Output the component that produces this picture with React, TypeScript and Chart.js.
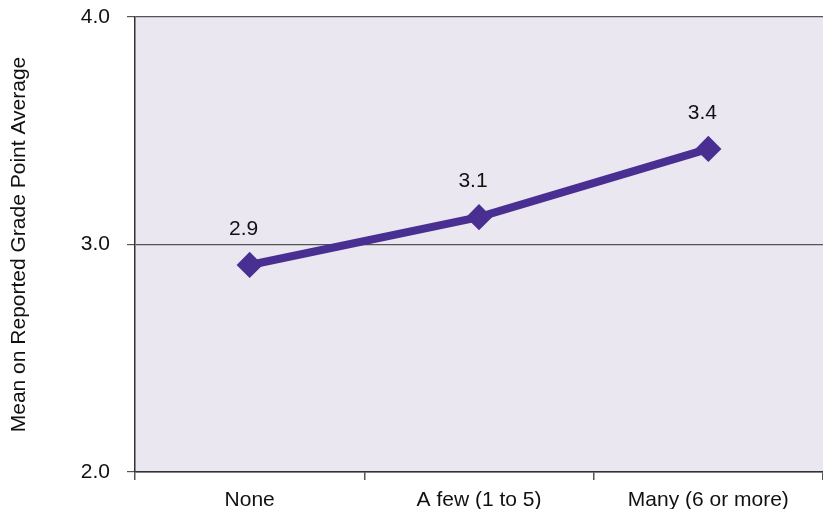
import React, { useEffect, useRef } from "react";
import { Chart, registerables } from "chart.js";

Chart.register(...registerables);

const categories = ["None", "A few (1 to 5)", "Many (6 or more)"];
const gpaMeans = [2.91, 3.12, 3.42];
const valueLabels = ["2.9", "3.1", "3.4"];
const yTicks = [2, 3, 4];

const FONT = "'Liberation Sans', Arial, Helvetica, sans-serif";

const plotBg = {
  id: "plotBg",
  beforeDraw(chart: any) {
    const { ctx, chartArea } = chart;
    ctx.save();
    ctx.fillStyle = "#EAE7F1";
    ctx.fillRect(chartArea.left, chartArea.top, chartArea.right - chartArea.left, chartArea.bottom - chartArea.top);
    ctx.restore();
  },
};

const valueLabelPlugin = {
  id: "valueLabels",
  afterDatasetsDraw(chart: any) {
    const { ctx } = chart;
    const meta = chart.getDatasetMeta(0);
    ctx.save();
    ctx.font = `21px ${FONT}`;
    ctx.fillStyle = "#111";
    ctx.textAlign = "center";
    ctx.textBaseline = "middle";
    meta.data.forEach((pt: any, i: number) => {
      ctx.fillText(valueLabels[i], pt.x - 6, pt.y - 36);
    });
    ctx.restore();
  },
};

export default function App() {
  const ref = useRef<HTMLCanvasElement | null>(null);
  useEffect(() => {
    if (!ref.current) return;
    const chart = new Chart(ref.current, {
      type: "line",
      data: {
        labels: categories,
        datasets: [
          {
            data: gpaMeans,
            borderColor: "#4A2F92",
            backgroundColor: "#4A2F92",
            borderWidth: 8,
            pointStyle: "rectRot",
            pointRadius: 11,
            pointBorderWidth: 3,
            pointBackgroundColor: "#4A2F92",
            pointBorderColor: "#4A2F92",
            tension: 0,
          },
        ],
      },
      options: {
        responsive: false,
        animation: false,
        layout: { autoPadding: false, padding: { top: 17, right: 0, left: 0, bottom: 0 } },
        plugins: {
          legend: { display: false },
          tooltip: { enabled: false },
        },
        scales: {
          x: {
            offset: true,
            grid: {
              offset: true,
              drawOnChartArea: false,
              drawTicks: true,
              tickLength: 8,
              color: "#555",
              lineWidth: 1.5,
            },
            border: { display: true, color: "#333", width: 1.5 },
            ticks: {
              color: "#111",
              font: { family: FONT, size: 21 },
              padding: 8,
              maxRotation: 0,
            },
            afterFit(scale: any) {
              scale.height = 37;
              scale.paddingLeft = 0;
              scale.paddingRight = 0;
            },
          },
          y: {
            min: 2,
            max: 4,
            afterBuildTicks(scale: any) {
              scale.ticks = yTicks.map((v) => ({ value: v }));
            },
            grid: {
              color: "#555",
              lineWidth: 1.2,
              tickLength: 8,
            },
            border: { display: true, color: "#333", width: 1.5 },
            ticks: {
              color: "#111",
              font: { family: FONT, size: 21 },
              padding: 17,
              callback: (v: any) => Number(v).toFixed(1),
            },
            title: {
              display: true,
              text: "Mean on Reported Grade Point Average",
              color: "#111",
              font: { family: FONT, size: 21 },
              padding: { top: 7, bottom: 0 },
            },
            afterFit(scale: any) {
              scale.width = 135;
              scale.paddingTop = 0;
              scale.paddingBottom = 0;
            },
          },
        },
      },
      plugins: [plotBg, valueLabelPlugin],
    });
    return () => chart.destroy();
  }, []);
  return (
    <div style={{ position: "fixed", left: 0, top: 0, width: 823, height: 509, background: "#fff" }}>
      <canvas ref={ref} width={823} height={509} style={{ display: "block" }} />
    </div>
  );
}
